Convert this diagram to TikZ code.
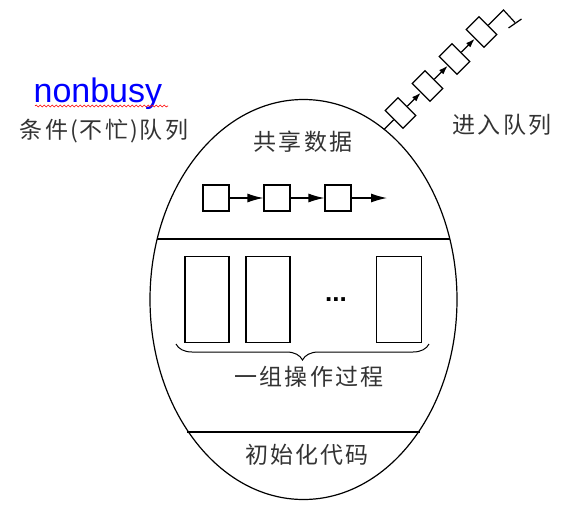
\documentclass[tikz,border=0pt]{standalone}
\usepackage{fontspec}
\setmainfont{Liberation Sans}
\newfontfamily\cjk[LetterSpace=9]{Noto Sans CJK SC}
\usetikzlibrary{shapes.geometric,arrows.meta,decorations.pathreplacing,decorations.pathmorphing}
\begin{document}
\begin{tikzpicture}[x=1pt,y=-1pt,line width=1.2pt,
  cjklabel/.style={font=\cjk\fontsize{23}{27}\selectfont,text=black!80,inner sep=0pt},
  smallbox/.style={draw,minimum width=26pt,minimum height=26pt,inner sep=0pt},
  procbox/.style={draw,minimum width=44pt,minimum height=86pt,inner sep=0pt},
  qbox/.style={draw,minimum width=18pt,minimum height=25pt,inner sep=0pt,rotate=45},
  bigarrow/.style={-{Latex[length=16pt,width=9pt]}},
  qarrow/.style={-{Latex[length=9pt,width=6pt]}}]
\useasboundingbox (0,0) rectangle (562,512);

% monitor body
\node[draw,ellipse,minimum width=307pt,minimum height=400pt,inner sep=0pt] (oval) at (303.5,299.5) {};
\draw (157.2,239) coordinate (l1a) -- (449.8,239) coordinate (l1b);
\draw (187,432) coordinate (l2a) -- (420,432) coordinate (l2b);

% labels
\node[anchor=base west,inner sep=0pt,text=blue,font=\fontsize{34}{40}\selectfont] (nb) at (33,102.5) {nonbusy};
\draw[red,line width=0.6pt,decorate,decoration={snake,amplitude=1pt,segment length=4pt}] (35,106) coordinate (w1) -- (168,106) coordinate (w2);
\node[cjklabel] (cq) at (104,131.5) {条件(不忙)队列};
\node[cjklabel] (eq) at (502,125) {进入队列};
\node[cjklabel] (sd) at (303,142) {共享数据};
\node[cjklabel] (ops) at (309,377) {一组操作过程};
\node[cjklabel] (init) at (307,455) {初始化代码};

% shared data list
\node[smallbox] (b1) at (216,198) {};
\node[smallbox] (b2) at (277,198) {};
\node[smallbox] (b3) at (338,198) {};
\coordinate (bend) at (387,198);
\draw[bigarrow] (b1.east) -- (b2.west);
\draw[bigarrow] (b2.east) -- (b3.west);
\draw[bigarrow] (b3.east) -- (bend);

% procedures
\node[procbox] (p1) at (207,299.5) {};
\node[procbox] (p2) at (268,299.5) {};
\node[procbox,minimum width=45pt] (p3) at (399,299.5) {};
\node[anchor=base,inner sep=0pt,font=\bfseries\fontsize{26}{30}\selectfont] (dots) at (336,301) {...};
\coordinate (bra) at (176,344);
\coordinate (brb) at (429,344);
\draw[line width=1pt,decorate,decoration={brace,mirror,amplitude=16pt}] (bra) -- (brb);

% entry queue
\coordinate (qe) at (384,129.5);
\node[qbox] (q1) at (400.5,113) {};
\node[qbox] (q2) at (427.5,86) {};
\node[qbox] (q3) at (454.5,59) {};
\node[qbox] (q4) at (481.5,32) {};
\draw (qe) -- (q1.west);
\draw[qarrow] (q1.east) -- (q2.west);
\draw[qarrow] (q2.east) -- (q3.west);
\draw[qarrow] (q3.east) -- (q4.west);
\coordinate (tc) at (503.5,10);
\coordinate (tg) at (515,22.5);
\coordinate (ga) at (508.5,28);
\coordinate (gb) at (521.5,19);
\draw (q4.east) -- (tc) -- (tg);
\draw (ga) -- (gb);
\end{tikzpicture}
\end{document}
